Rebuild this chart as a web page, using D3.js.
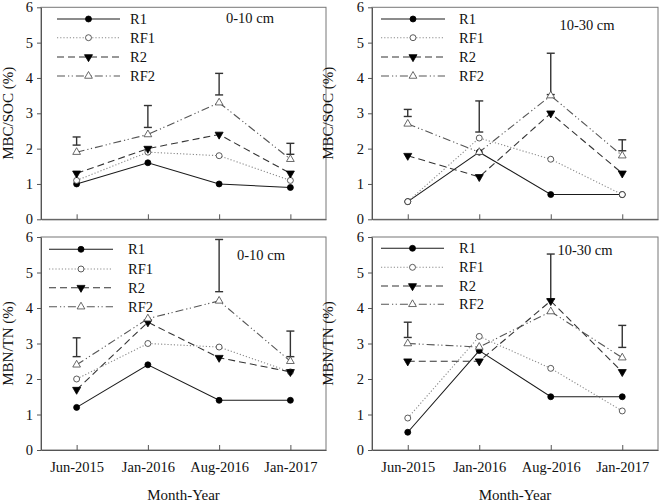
<!DOCTYPE html>
<html>
<head>
<meta charset="utf-8">
<script src="https://cdn.jsdelivr.net/npm/d3@7"></script>
<style>
html,body{margin:0;padding:0;background:#fff;}
svg{display:block;}
svg text{font-family:"Liberation Serif","Times New Roman",serif !important;fill:#111;}
</style>
</head>
<body>
<svg id="chart" width="660" height="502" font-family="Liberation Serif"></svg>
<script>
const categories = ["Jun-2015", "Jan-2016", "Aug-2016", "Jan-2017"];
const seriesNames = ["R1", "RF1", "R2", "RF2"];
const yTicks = [0, 1, 2, 3, 4, 5, 6];
const yLabels = ["MBC/SOC (%)", "MBC/SOC (%)", "MBN/TN (%)", "MBN/TN (%)"];
const depthLabels = ["0-10 cm", "10-30 cm", "0-10 cm", "10-30 cm"];
const xAxisTitle = "Month-Year";

// Panel A: MBC/SOC, 0-10 cm
const aR1 = [1.0, 1.6, 1.0, 0.9];
const aRF1 = [1.1, 1.9, 1.8, 1.1];
const aR2 = [1.3, 2.0, 2.4, 1.3];
const aRF2 = [1.9, 2.4, 3.3, 1.7];
const aErrLow = [2.10, 2.60, 3.52, 1.84];
const aErrHigh = [2.33, 3.22, 4.13, 2.15];

// Panel B: MBC/SOC, 10-30 cm
const bR1 = [0.5, 1.9, 0.7, 0.7];
const bRF1 = [0.5, 2.3, 1.7, 0.7];
const bR2 = [1.8, 1.2, 3.0, 1.3];
const bRF2 = [2.7, 1.9, 3.5, 1.8];
const bErrLow = [2.91, 2.47, 3.53, 1.94];
const bErrHigh = [3.11, 3.35, 4.70, 2.25];

// Panel C: MBN/TN, 0-10 cm
const cR1 = [1.2, 2.4, 1.4, 1.4];
const cRF1 = [2.0, 3.0, 2.9, 2.2];
const cR2 = [1.7, 3.6, 2.6, 2.2];
const cRF2 = [2.4, 3.7, 4.2, 2.5];
const cErrLow = [2.63, null, 4.46, 2.63];
const cErrHigh = [3.16, null, 5.93, 3.35];

// Panel D: MBN/TN, 10-30 cm
const dR1 = [0.5, 2.8, 1.5, 1.5];
const dRF1 = [0.9, 3.2, 2.3, 1.1];
const dR2 = [2.5, 2.5, 4.2, 2.2];
const dRF2 = [3.0, 2.9, 3.9, 2.6];
const dErrLow = [3.17, null, 4.25, 2.89];
const dErrHigh = [3.60, null, 5.52, 3.51];

const panelData = [
  {series: [aR1, aRF1, aR2, aRF2], lo: aErrLow, hi: aErrHigh},
  {series: [bR1, bRF1, bR2, bRF2], lo: bErrLow, hi: bErrHigh},
  {series: [cR1, cRF1, cR2, cRF2], lo: cErrLow, hi: cErrHigh},
  {series: [dR1, dRF1, dR2, dRF2], lo: dErrLow, hi: dErrHigh}
];

const FONT = "'Liberation Serif', 'Times New Roman', serif";

// layout
const layout = [
  {x0: 41, x1: 326, y0: 7.3, y1: 219.3, ylabX: 8, bottom: false,
   leg: {lx0: 57, lx1: 120, tx: 130, rows: [19, 37.7, 57, 76]}, depth: {x: 250, y: 17.5}},
  {x0: 372, x1: 658, y0: 7.3, y1: 219.3, ylabX: 328, bottom: false,
   leg: {lx0: 381, lx1: 445, tx: 459, rows: [19, 37.7, 57, 76]}, depth: {x: 587, y: 25}},
  {x0: 41, x1: 326, y0: 237, y1: 450, ylabX: 8, bottom: true,
   leg: {lx0: 49, lx1: 113, tx: 128, rows: [249.3, 269, 287.7, 306.7]}, depth: {x: 261, y: 255}},
  {x0: 372, x1: 658, y0: 237, y1: 450, ylabX: 328, bottom: true,
   leg: {lx0: 381, lx1: 444, tx: 459, rows: [248.3, 267.3, 286, 304.3]}, depth: {x: 585, y: 250}}
];

const styles = [
  {stroke: "#1a1a1a", dash: null, width: 1.1, sym: d3.symbolCircle, size: 28, fill: "#000", mstroke: "#000"},
  {stroke: "#8a8a8a", dash: "1.2,2", width: 1.1, sym: d3.symbolCircle, size: 28, fill: "#fff", mstroke: "#333"},
  {stroke: "#333", dash: "7,4", width: 1.1, sym: d3.symbolTriangle, size: 28, fill: "#000", mstroke: "#000", rot: 180},
  {stroke: "#555", dash: "8,3,1.2,2.5,1.2,3", width: 1.1, sym: d3.symbolTriangle, size: 26, fill: "#fff", mstroke: "#444", rot: 0}
];

const svg = d3.select("#chart");

panelData.forEach((pd, i) => {
  const L = layout[i];
  const x = d3.scalePoint().domain(categories).range([L.x0, L.x1]).padding(0.5);
  const y = d3.scaleLinear().domain([0, 6]).range([L.y1, L.y0]);
  const g = svg.append("g").attr("font-family", FONT);

  // frame
  g.append("rect").attr("x", L.x0).attr("y", L.y0)
    .attr("width", L.x1 - L.x0).attr("height", L.y1 - L.y0)
    .attr("fill", "none").attr("stroke", "#777").attr("stroke-width", 1);

  // y axis
  const ya = g.append("g").attr("transform", `translate(${L.x0},0)`)
    .call(d3.axisLeft(y).tickValues(yTicks).tickFormat(d3.format("d")).tickSize(4).tickSizeOuter(0).tickPadding(4));
  ya.attr("font-family", FONT);
  ya.select(".domain").attr("stroke", "#555");
  ya.selectAll(".tick line").attr("stroke", "#555");
  ya.selectAll(".tick text").attr("font-size", 14.5).attr("font-family", FONT).attr("fill", "#111");

  // x axis (inward ticks)
  const xa = g.append("g").attr("transform", `translate(0,${L.y1})`)
    .call(d3.axisBottom(x).tickSize(-5).tickSizeOuter(0).tickPadding(12)
      .tickFormat(L.bottom ? (d => d) : (() => "")));
  xa.attr("font-family", FONT);
  xa.select(".domain").attr("stroke", "#555");
  xa.selectAll(".tick line").attr("stroke", "#555");
  xa.selectAll(".tick text").attr("font-size", 14.5).attr("font-family", FONT).attr("fill", "#111");

  // y label
  g.append("text")
    .attr("transform", `translate(${L.ylabX + 5},${(L.y0 + L.y1) / 2}) rotate(-90)`)
    .attr("text-anchor", "middle").attr("font-size", 15).attr("font-family", FONT)
    .text(yLabels[i]);

  if (L.bottom) {
    g.append("text").attr("x", (L.x0 + L.x1) / 2).attr("y", 500)
      .attr("text-anchor", "middle").attr("font-size", 15).attr("font-family", FONT).text(xAxisTitle);
  }

  // depth label
  g.append("text").attr("x", L.depth.x).attr("y", L.depth.y).attr("dy", "0.35em")
    .attr("text-anchor", "middle").attr("font-size", 14.5).attr("font-family", FONT).text(depthLabels[i]);

  // error bars
  const capW = 4;
  categories.forEach((c, k) => {
    if (pd.lo[k] == null) return;
    const cx = x(c);
    const eg = g.append("g").attr("stroke", "#333").attr("stroke-width", 1.4);
    eg.append("line").attr("x1", cx).attr("x2", cx).attr("y1", y(pd.lo[k])).attr("y2", y(pd.hi[k]));
    eg.append("line").attr("x1", cx - capW).attr("x2", cx + capW).attr("y1", y(pd.lo[k])).attr("y2", y(pd.lo[k]));
    eg.append("line").attr("x1", cx - capW).attr("x2", cx + capW).attr("y1", y(pd.hi[k])).attr("y2", y(pd.hi[k]));
  });

  // lines
  const line = d3.line().x((d, k) => x(categories[k])).y(d => y(d));
  pd.series.forEach((s, j) => {
    const st = styles[j];
    g.append("path").datum(s).attr("d", line)
      .attr("fill", "none").attr("stroke", st.stroke).attr("stroke-width", st.width)
      .attr("stroke-dasharray", st.dash);
  });

  // markers
  pd.series.forEach((s, j) => {
    const st = styles[j];
    const sym = d3.symbol().type(st.sym).size(st.size);
    g.selectAll(null).data(s).enter().append("path")
      .attr("d", sym)
      .attr("transform", (d, k) => `translate(${x(categories[k])},${y(d)}) rotate(${st.rot || 0})`)
      .attr("fill", st.fill).attr("stroke", st.mstroke).attr("stroke-width", 0.8);
  });

  // legend
  seriesNames.forEach((name, j) => {
    const st = styles[j];
    const ry = L.leg.rows[j];
    g.append("line").attr("x1", L.leg.lx0).attr("x2", L.leg.lx1).attr("y1", ry).attr("y2", ry)
      .attr("stroke", st.stroke).attr("stroke-width", st.width).attr("stroke-dasharray", st.dash);
    const mx = (L.leg.lx0 + L.leg.lx1) / 2;
    g.append("path").attr("d", d3.symbol().type(st.sym).size(st.size)())
      .attr("transform", `translate(${mx},${ry}) rotate(${st.rot || 0})`)
      .attr("fill", st.fill).attr("stroke", st.mstroke).attr("stroke-width", 0.8);
    g.append("text").attr("x", L.leg.tx).attr("y", ry).attr("dy", "0.35em")
      .attr("font-size", 14.5).attr("font-family", FONT).text(name);
  });
});
</script>
</body>
</html>
